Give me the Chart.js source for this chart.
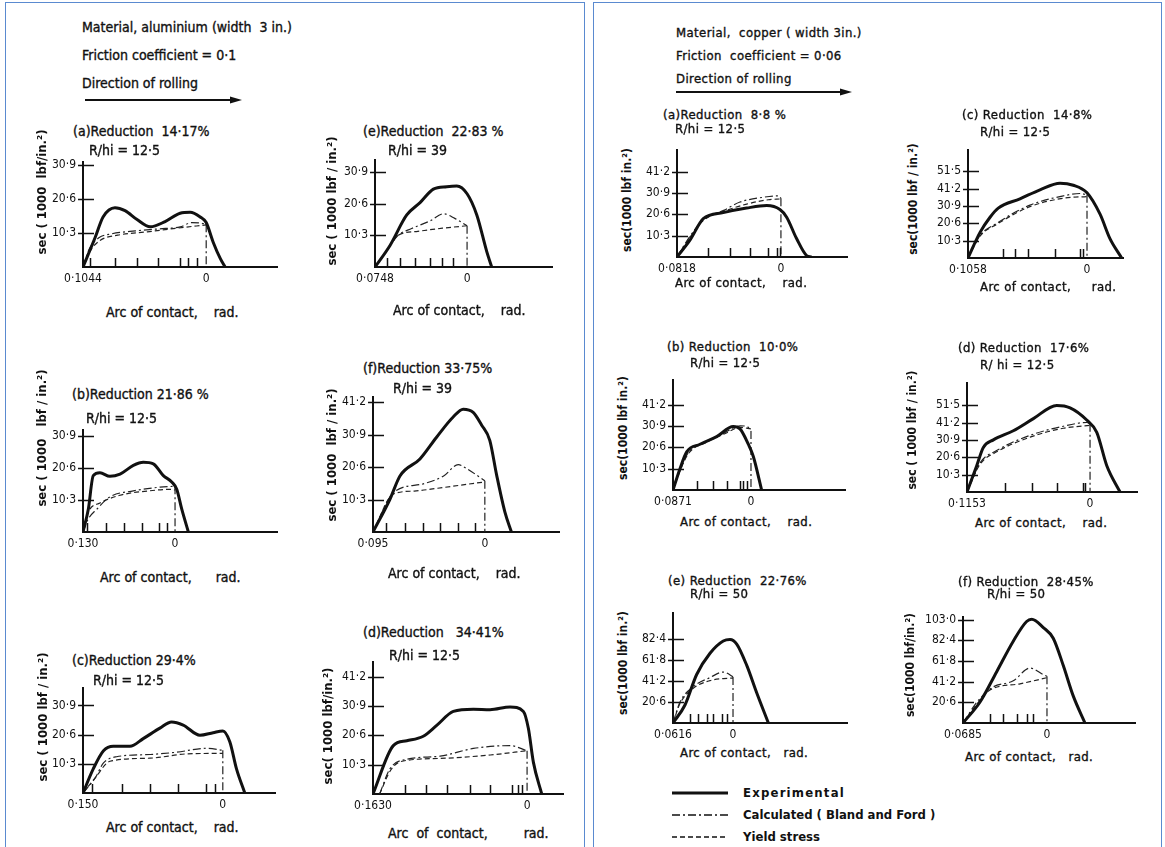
<!DOCTYPE html>
<html>
<head>
<meta charset="utf-8">
<script src="https://cdn.jsdelivr.net/npm/chart.js@4.4.1/dist/chart.umd.min.js"></script>
<style>
  body { margin:0; background:#fff; width:1165px; height:847px; overflow:hidden; position:relative;
         font-family:'DejaVu Sans Condensed','Liberation Sans Narrow','DejaVu Sans',sans-serif; font-stretch:condensed; color:#111; }
  .panel { position:absolute; border:1.5px solid #5a8ad0; }
  .t { position:absolute; white-space:pre; font-size:14px; line-height:16px; -webkit-text-stroke:0.35px #111; }
  .s { font-size:13px; letter-spacing:0.4px; }
  .b { font-weight:bold; -webkit-text-stroke:0; letter-spacing:0; }
  .wide { letter-spacing:1.2px; }
  .yl { position:absolute; white-space:pre; font-size:13px; font-weight:bold; line-height:16px;
        transform:translate(-50%,-50%) rotate(-90deg); }
  .yl.s { font-size:12px; letter-spacing:0; }
  canvas { position:absolute; }
  svg { position:absolute; left:0; top:0; }
</style>
</head>
<body>
<div class="panel" style="left:5px;top:2px;width:578px;height:900px"></div>
<div class="panel" style="left:593px;top:2px;width:567px;height:900px"></div>
<svg width="1165" height="847">
  <line x1="85" y1="100" x2="232" y2="100" stroke="#111" stroke-width="1.8"/>
  <polygon points="242,100 230,96.5 230,103.5" fill="#111"/>
  <line x1="676" y1="92" x2="842" y2="92" stroke="#111" stroke-width="1.8"/>
  <polygon points="852,92 840,88.5 840,95.5" fill="#111"/>
  <line x1="672" y1="793" x2="728" y2="793" stroke="#111" stroke-width="3"/>
  <line x1="672" y1="815" x2="728" y2="815" stroke="#111" stroke-width="1.3" stroke-dasharray="8,3,2,3"/>
  <line x1="672" y1="837" x2="728" y2="837" stroke="#111" stroke-width="1.3" stroke-dasharray="5,3"/>
</svg>
<script>
// aluminium, friction 0.1  -- points are [arc of contact (rad), stress (1000 lbf/in2)]
const alA_exp = [[-0.1044,0],[-0.0942,8.8],[-0.0874,15.1],[-0.0773,17.9],[-0.0688,17.0],[-0.0586,14.3],[-0.0475,12.1],[-0.0348,13.7],[-0.0221,16.2],[-0.0136,16.5],[-0.0051,15.1],[0,13.4],[0.006,7.4],[0.012,2.5],[0.016,0]];
const alA_calc = [[-0.1044,0],[-0.099,5.5],[-0.091,8.8],[-0.08,10.0],[-0.06,10.9],[-0.04,11.5],[-0.022,12.1],[-0.012,13.4],[-0.004,13.2],[0,12.9]];
const alA_yield = [[-0.1044,0],[-0.098,5.0],[-0.09,8.0],[-0.075,9.6],[-0.05,10.6],[-0.025,11.7],[0,12.7]];
const alA_marks = [-0.0985,-0.0773,-0.0586,-0.0408,-0.0221,-0.0153,-0.0076];

const alE_exp = [[-0.0748,0],[-0.0626,7.0],[-0.049,16.9],[-0.0382,20.9],[-0.0274,25.3],[-0.0165,26.1],[-0.0084,26.3],[0,23.8],[0.0079,16.9],[0.016,5.0],[0.020,0]];
const alE_calc = [[-0.0748,0],[-0.065,5.5],[-0.056,10.3],[-0.045,12.5],[-0.03,15.0],[-0.019,17.3],[-0.01,15.8],[0,13.4]];
const alE_yield = [[-0.0748,0],[-0.065,5.5],[-0.056,10.3],[-0.04,11.6],[-0.02,12.6],[0,13.4]];
const alE_marks = [-0.0653,-0.0545,-0.0423,-0.0301,-0.0206,-0.0111];

const alB_exp = [[-0.130,0],[-0.1225,7.3],[-0.1155,18.1],[-0.106,19.0],[-0.092,17.9],[-0.0777,18.6],[-0.0589,21.4],[-0.0448,22.4],[-0.0307,21.9],[-0.0165,18.1],[-0.0047,16.1],[0.0024,13.7],[0.0094,7.4],[0.0188,0]];
const alB_calc = [[-0.130,0],[-0.123,4.0],[-0.1106,7.3],[-0.092,11.3],[-0.0589,13.2],[-0.0212,14.4],[0,14.7]];
const alB_yield = [[-0.130,0],[-0.1225,6.4],[-0.106,9.3],[-0.0777,11.8],[-0.0377,13.2],[-0.0047,13.7],[0,13.5]];
const alB_marks = [-0.1239,-0.0975,-0.0721,-0.0471,-0.0222,-0.0118];

const alF_exp = [[-0.095,0],[-0.0806,10.4],[-0.0721,17.8],[-0.0551,23.2],[-0.041,30.1],[-0.0269,36.5],[-0.0184,39.0],[-0.0099,38.0],[-0.0028,34.0],[0.0042,29.1],[0.0099,18.3],[0.017,6.4],[0.0226,0]];
const alF_calc = [[-0.095,0],[-0.0779,12.4],[-0.0523,15.3],[-0.035,17.8],[-0.0226,21.4],[-0.015,20.0],[0,16.3]];
const alF_yield = [[-0.095,0],[-0.0779,12.0],[-0.06,13.0],[-0.04,13.9],[-0.02,14.9],[0,15.9]];
const alF_marks = [-0.084,-0.0679,-0.0523,-0.0382,-0.0226,-0.0085];

const alC_exp = [[-0.150,0],[-0.139,8.5],[-0.128,14.9],[-0.1175,16.5],[-0.0996,16.5],[-0.0854,19.2],[-0.0675,22.9],[-0.055,25.1],[-0.0425,24.0],[-0.0246,20.4],[-0.0104,21.3],[0,21.9],[0.0075,18.1],[0.0147,8.5],[0.0236,0]];
const alC_calc = [[-0.150,0],[-0.137,5.3],[-0.128,10.6],[-0.114,12.8],[-0.078,13.6],[-0.0496,14.4],[-0.0175,15.8],[0,15.1]];
const alC_yield = [[-0.150,0],[-0.137,5.3],[-0.121,11.2],[-0.078,12.3],[-0.039,13.8],[0,14.0]];
const alC_marks = [-0.1407,-0.1085,-0.0782,-0.0479,-0.0175,-0.0086];

const alD_exp = [[-0.163,0],[-0.1415,17.0],[-0.1273,18.7],[-0.1098,20.3],[-0.0956,24.1],[-0.078,29.0],[-0.0568,29.8],[-0.0392,29.6],[-0.018,30.6],[-0.0039,29.0],[0.0014,23.0],[0.0067,11.1],[0.0155,0]];
const alD_calc = [[-0.156,0],[-0.145,8.9],[-0.127,12.2],[-0.092,13.3],[-0.0568,16.0],[-0.018,17.0],[0,15.2]];
const alD_yield = [[-0.156,0],[-0.145,8.0],[-0.1336,11.4],[-0.092,12.5],[-0.039,13.7],[0,15.2]];
const alD_marks = [-0.1291,-0.1069,-0.085,-0.0603,-0.0392,-0.0162,-0.0092,-0.0056];

// copper, friction 0.06
const cuA_exp = [[-0.0818,0],[-0.0716,8.1],[-0.0611,18.5],[-0.0454,21.4],[-0.027,23.6],[-0.0112,24.8],[-0.0008,22.9],[0.0045,19.2],[0.0123,8.9],[0.0202,0.7],[0.0241,0]];
const cuA_calc = [[-0.0818,0],[-0.0716,10.0],[-0.0611,17.9],[-0.045,22.5],[-0.0322,26.5],[-0.0139,28.8],[-0.002,29.5],[0,28.3]];
const cuA_yield = [[-0.0818,0],[-0.0716,9.5],[-0.0611,17.6],[-0.045,22.0],[-0.027,25.5],[-0.01,27.6],[0,28.0]];
const cuA_marks = [-0.0572,-0.0401,-0.0244,-0.01,-0.0034,-0.0008];

const cuC_exp = [[-0.1058,0],[-0.0951,15.2],[-0.0862,24.2],[-0.0789,29.6],[-0.0596,35.1],[-0.0418,40.5],[-0.024,44.4],[-0.0122,43.2],[0,38.7],[0.0116,26.0],[0.0204,11.5],[0.0308,0]];
const cuC_calc = [[-0.1058,0],[-0.0951,13.4],[-0.0803,20.6],[-0.0507,31.4],[-0.021,36.9],[-0.0062,38.3],[0,37.5]];
const cuC_yield = [[-0.1058,0],[-0.0951,13.0],[-0.0803,20.0],[-0.0507,30.5],[-0.021,35.5],[0,36.5]];
const cuC_marks = [-0.0744,-0.064,-0.0522,-0.0285,-0.0062,-0.0033];

const cuB_exp = [[-0.0871,0],[-0.0793,10.3],[-0.0718,18.4],[-0.0569,22.1],[-0.0383,25.8],[-0.0198,30.6],[-0.0123,29.5],[-0.003,22.1],[0.0026,16.2],[0.0119,0]];
const cuB_calc = [[-0.0871,0],[-0.079,10.0],[-0.07,18.0],[-0.05,23.5],[-0.03,27.5],[-0.012,31.0],[-0.004,30.5],[0,28.5]];
const cuB_yield = [[-0.0871,0],[-0.079,9.5],[-0.07,17.5],[-0.05,23.0],[-0.03,27.0],[-0.012,30.2],[0,29.5]];
const cuB_marks = [-0.06,-0.0428,-0.0271,-0.0123,-0.0086,-0.0048];

const cuD_exp = [[-0.1153,0],[-0.1062,15.6],[-0.1,26.4],[-0.0906,30.9],[-0.0719,36.3],[-0.0531,43.5],[-0.0312,51.3],[-0.0187,49.9],[-0.0031,42.7],[0.0063,35.4],[0.0157,15.6],[0.0281,0]];
const cuD_calc = [[-0.1153,0],[-0.103,17.3],[-0.0875,24.6],[-0.0562,33.6],[-0.025,39.0],[-0.0031,41.2],[0,40.5]];
const cuD_yield = [[-0.1153,0],[-0.103,16.5],[-0.0875,23.8],[-0.0562,32.5],[-0.025,37.8],[0,39.5]];
const cuD_marks = [-0.0797,-0.0547,-0.0312,-0.0063,-0.0047];

const cuE_exp = [[-0.0616,0],[-0.0493,17.6],[-0.0373,47.5],[-0.0236,68.3],[-0.01,80.3],[-0.0031,81.8],[0.0038,77.3],[0.0141,56.4],[0.0243,29.6],[0.0363,0]];
const cuE_calc = [[-0.0616,0],[-0.0544,20.6],[-0.0408,35.6],[-0.0236,44.5],[-0.01,49.9],[-0.0013,46.0],[0,45.0]];
const cuE_yield = [[-0.0616,0],[-0.0544,19.0],[-0.0408,34.0],[-0.0236,41.5],[-0.01,43.5],[0,44.0]];
const cuE_marks = [-0.0441,-0.0356,-0.027,-0.0202,-0.0116,-0.0065];

const cuF_exp = [[-0.0685,0],[-0.0546,20.9],[-0.041,51.1],[-0.0275,81.4],[-0.0166,101.0],[-0.0125,103.2],[-0.003,95.0],[0.0051,84.4],[0.0133,57.2],[0.0214,27.0],[0.031,0]];
const cuF_calc = [[-0.0685,0],[-0.0571,20.9],[-0.05,29.9],[-0.0438,36.0],[-0.0275,42.0],[-0.0139,54.7],[-0.003,48.1],[0,46.5]];
const cuF_yield = [[-0.0685,0],[-0.0571,19.0],[-0.0465,32.9],[-0.022,39.0],[0,45.1]];
const cuF_marks = [-0.0465,-0.0356,-0.0247,-0.0166,-0.0112];

// tick labels
const ticks309 = [10.3, 20.6, 30.9];
const ticks412 = [10.3, 20.6, 30.9, 41.2];
const ticks515 = [10.3, 20.6, 30.9, 41.2, 51.5];
const ticks824 = [20.6, 41.2, 61.8, 82.4];
const ticks1030 = [20.6, 41.2, 61.8, 82.4, 103.0];
const xStartLabels = ['0·1044', '0·0748', '0·130', '0·095', '0·150', '0·1630', '0·0818', '0·1058', '0·0871', '0·1153', '0·0616', '0·0685'];

Chart.defaults.font.family = "'DejaVu Sans Condensed','Liberation Sans Narrow','DejaVu Sans',sans-serif";
Chart.defaults.color = '#111';

const YW = 40, XH = 20, TP = 4, RP = 4;
const DASHDOT = [8, 3, 2, 3], DASH = [5, 3];

const axisMarks = {
  id: 'marks',
  afterDatasetsDraw(chart, args, opts) {
    const ctx = chart.ctx, x = chart.scales.x, y = chart.scales.y;
    ctx.save();
    ctx.strokeStyle = '#111';
    ctx.lineWidth = 1.5;
    ctx.beginPath();
    y.ticks.forEach(t => {
      const py = Math.round(y.getPixelForValue(t.value)) + 0.5;
      ctx.moveTo(x.left - 5, py);
      ctx.lineTo(x.left + 11, py);
    });
    opts.list.forEach(v => {
      const px = Math.round(x.getPixelForValue(v)) + 0.5;
      ctx.moveTo(px, y.bottom);
      ctx.lineTo(px, y.bottom - 9);
    });
    ctx.stroke();
    ctx.restore();
  }
};

function pts(a) { return a.map(p => ({ x: p[0], y: p[1] })); }
function fmt(v) { return v.toFixed(1).replace('.', '·'); }

// box: y-axis x, x-axis y, right end, top of y-axis (page pixels)
function plot(box, exp, calc, yld, yTicks, xMin, xMax, yMax, marks, xLabel) {
  const cv = document.createElement('canvas');
  cv.width = box[2] - box[0] + YW + RP;
  cv.height = box[1] - box[3] + XH + TP;
  cv.style.left = (box[0] - YW) + 'px';
  cv.style.top = (box[3] - TP) + 'px';
  document.body.appendChild(cv);
  const last = calc[calc.length - 1];
  return new Chart(cv, {
    type: 'line',
    data: {
      datasets: [
        { data: pts(exp), borderColor: '#111', borderWidth: 3, cubicInterpolationMode: 'monotone' },
        { data: pts(calc), borderColor: '#222', borderWidth: 1.2, borderDash: DASHDOT, cubicInterpolationMode: 'monotone' },
        { data: pts([last, [last[0], 0]]), borderColor: '#222', borderWidth: 1.2, borderDash: DASHDOT },
        { data: pts(yld), borderColor: '#222', borderWidth: 1.2, borderDash: DASH, cubicInterpolationMode: 'monotone' }
      ]
    },
    options: {
      responsive: false,
      animation: false,
      devicePixelRatio: 1,
      layout: { padding: { top: TP, right: RP, left: 0, bottom: 0 } },
      elements: { point: { radius: 0 } },
      plugins: { legend: { display: false }, tooltip: { enabled: false }, marks: { list: marks } },
      scales: {
        x: {
          type: 'linear', min: xMin, max: xMax,
          grid: { display: false, drawTicks: false },
          border: { display: true, width: 2, color: '#111' },
          afterBuildTicks: s => { s.ticks = [{ value: xMin }, { value: 0 }]; },
          afterFit: s => { s.height = XH; },
          ticks: { autoSkip: false, maxRotation: 0, padding: 5, font: { size: 12 },
                   callback: v => v === 0 ? '0' : xLabel }
        },
        y: {
          type: 'linear', min: 0, max: yMax,
          grid: { display: false, drawTicks: false },
          border: { display: true, width: 2, color: '#111' },
          afterBuildTicks: s => { s.ticks = yTicks.map(v => ({ value: v })); },
          afterFit: s => { s.width = YW; },
          ticks: { autoSkip: false, padding: 7, font: { size: 12 }, callback: v => fmt(v) }
        }
      }
    },
    plugins: [axisMarks]
  });
}

plot([83, 267, 277, 152], alA_exp, alA_calc, alA_yield, ticks309, -0.1044, 0.060, 31.6, alA_marks, xStartLabels[0]);
plot([375, 267, 552, 150], alE_exp, alE_calc, alE_yield, ticks309, -0.0748, 0.069, 34.7, alE_marks, xStartLabels[1]);
plot([83, 532, 277, 420], alB_exp, alB_calc, alB_yield, ticks309, -0.130, 0.144, 32.7, alB_marks, xStartLabels[2]);
plot([373, 532, 559, 387], alF_exp, alF_calc, alF_yield, ticks412, -0.095, 0.063, 42.8, alF_marks, xStartLabels[3]);
plot([83, 793, 275, 678], alC_exp, alC_calc, alC_yield, ticks309, -0.150, 0.056, 37.0, alC_marks, xStartLabels[4]);
plot([373, 794, 563, 652], alD_exp, alD_calc, alD_yield, ticks412, -0.163, 0.038, 46.3, alD_marks, xStartLabels[5]);
plot([677, 257, 847, 140], cuA_exp, cuA_calc, cuA_yield, ticks412, -0.0818, 0.052, 51.5, cuA_marks, xStartLabels[6]);
plot([968, 258, 1123, 140], cuC_exp, cuC_calc, cuC_yield, ticks515, -0.1058, 0.032, 64.0, cuC_marks, xStartLabels[7]);
plot([673, 490, 845, 370], cuB_exp, cuB_calc, cuB_yield, ticks412, -0.0871, 0.105, 53.0, cuB_marks, xStartLabels[8]);
plot([967, 492, 1137, 373], cuD_exp, cuD_calc, cuD_yield, ticks515, -0.1153, 0.044, 64.5, cuD_marks, xStartLabels[9]);
plot([673, 723, 847, 603], cuE_exp, cuE_calc, cuE_yield, ticks824, -0.0616, 0.117, 107.5, cuE_marks, xStartLabels[10]);
plot([963, 723, 1135, 607], cuF_exp, cuF_calc, cuF_yield, ticks1030, -0.0685, 0.0718, 105.3, cuF_marks, xStartLabels[11]);

// text: [text, left, centre y, class]
const texts = [
  ['Material, aluminium (width  3 in.)', 82, 27, 't'],
  ['Friction coefficient = 0·1', 82, 55, 't'],
  ['Direction of rolling', 82, 83, 't'],
  ['Material,  copper ( width 3in.)', 676, 33, 't s'],
  ['Friction  coefficient = 0·06', 676, 56, 't s'],
  ['Direction of rolling', 676, 79, 't s'],
  ['(a)Reduction  14·17%', 73, 131, 't'], ['R/hi = 12·5', 89, 150, 't'],
  ['(e)Reduction  22·83 %', 363, 131, 't'], ['R/hi = 39', 388, 150, 't'],
  ['(b)Reduction 21·86 %', 72, 394, 't'], ['R/hi = 12·5', 86, 418, 't'],
  ['(f)Reduction 33·75%', 363, 368, 't'], ['R/hi = 39', 393, 388, 't'],
  ['(c)Reduction 29·4%', 72, 660, 't'], ['R/hi = 12·5', 93, 680, 't'],
  ['(d)Reduction   34·41%', 363, 632, 't'], ['R/hi = 12·5', 389, 655, 't'],
  ['(a)Reduction  8·8 %', 663, 115, 't s'], ['R/hi = 12·5', 675, 129, 't s'],
  ['(c) Reduction  14·8%', 962, 115, 't s'], ['R/hi = 12·5', 980, 132, 't s'],
  ['(b) Reduction  10·0%', 667, 347, 't s'], ['R/hi = 12·5', 690, 363, 't s'],
  ['(d) Reduction  17·6%', 958, 348, 't s'], ['R/ hi = 12·5', 980, 365, 't s'],
  ['(e) Reduction  22·76%', 668, 581, 't s'], ['R/hi = 50', 690, 594, 't s'],
  ['(f) Reduction  28·45%', 958, 582, 't s'], ['R/hi = 50', 987, 594, 't s'],
  ['Arc of contact,    rad.', 106, 312, 't'],
  ['Arc of contact,    rad.', 393, 310, 't'],
  ['Arc of contact,      rad.', 100, 577, 't'],
  ['Arc of contact,    rad.', 388, 573, 't'],
  ['Arc of contact,    rad.', 106, 827, 't'],
  ['Arc  of  contact,         rad.', 388, 833, 't'],
  ['Arc of contact,    rad.', 675, 283, 't s'],
  ['Arc of contact,     rad.', 980, 287, 't s'],
  ['Arc of contact,    rad.', 680, 522, 't s'],
  ['Arc of contact,    rad.', 975, 523, 't s'],
  ['Arc of contact,   rad.', 680, 753, 't s'],
  ['Arc of contact,   rad.', 965, 757, 't s'],
  ['Experimental', 743, 793, 't s b wide'],
  ['Calculated ( Bland and Ford )', 743, 815, 't s b'],
  ['Yield stress', 743, 837, 't s b']
];
texts.forEach(([s, x, cy, cls]) => {
  const d = document.createElement('div');
  d.className = cls;
  d.textContent = s;
  d.style.left = x + 'px';
  d.style.top = (cy - 8) + 'px';
  document.body.appendChild(d);
});

// rotated y-axis titles: [text, centre x, centre y, class]
const yTitles = [
  ['sec ( 1000  lbf/in.²)', 42, 192, 'yl'],
  ['sec ( 1000 lbf / in.²)', 332, 201, 'yl'],
  ['sec ( 1000   lbf / in.²)', 42, 438, 'yl'],
  ['sec ( 1000  lbf / in.²)', 332, 455, 'yl'],
  ['sec ( 1000 lbf / in.²)', 43, 717, 'yl'],
  ['sec( 1000 lbf/in.²)', 328, 726, 'yl'],
  ['sec(1000 lbf in.²)', 627, 200, 'yl s'],
  ['sec(1000 lbf / in.²)', 913, 199, 'yl s'],
  ['sec(1000 lbf in.²)', 623, 428, 'yl s'],
  ['sec ( 1000 lbf / in.²)', 912, 430, 'yl s'],
  ['sec(1000 lbf in.²)', 623, 663, 'yl s'],
  ['sec(1000 lbf/in.²)', 910, 665, 'yl s']
];
yTitles.forEach(([s, x, cy, cls]) => {
  const d = document.createElement('div');
  d.className = cls;
  d.textContent = s;
  d.style.left = x + 'px';
  d.style.top = cy + 'px';
  document.body.appendChild(d);
});
</script>
</body>
</html>
